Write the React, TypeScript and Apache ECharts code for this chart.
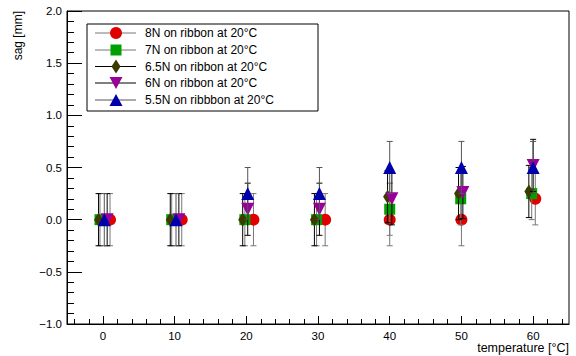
import React, { useEffect, useRef } from "react";
import * as echarts from "echarts";

// ---- data ----
const seriesNames = [
  "8N on ribbon at 20°C",
  "7N on ribbon at 20°C",
  "6.5N on ribbon at 20°C",
  "6N on ribbon at 20°C",
  "5.5N on ribbbon at 20°C",
];
// nominal temperatures (°C)
const temps = [0, 10, 20, 30, 40, 50, 60];
// small horizontal offsets of each measured point from the nominal temperature
const dx8N = [1.0, 1.0, 1.0, 1.0, 0.0, 0.0, 0.3];
const y8N = [0, 0, 0, 0, 0, 0, 0.2];
const e8N = [0.25, 0.25, 0.25, 0.25, 0.25, 0.25, 0.25];
const dx7N = [-0.4, -0.4, -0.2, -0.2, 0.0, -0.1, -0.2];
const y7N = [0, 0, 0, 0, 0.1, 0.2, 0.25];
const e7N = [0.25, 0.25, 0.25, 0.25, 0.25, 0.25, 0.25];
const dx65N = [-0.6, -0.6, -0.5, -0.5, -0.3, -0.4, -0.6];
const y65N = [0, 0, 0, 0, 0.22, 0.25, 0.27];
const e65N = [0.25, 0.25, 0.25, 0.25, 0.25, 0.25, 0.25];
const dx6N = [0.6, 0.6, 0.2, 0.2, 0.3, 0.2, 0.0];
const y6N = [0, 0, 0.1, 0.1, 0.2, 0.26, 0.52];
const e6N = [0.25, 0.25, 0.25, 0.25, 0.25, 0.25, 0.25];
const dx55N = [0.2, 0.2, 0.2, 0.2, 0.0, 0.0, 0.0];
const y55N = [0, 0, 0.25, 0.25, 0.5, 0.5, 0.5];
const e55N = [0.25, 0.25, 0.25, 0.25, 0.25, 0.25, 0.25];

const xMajorTicks = [0, 10, 20, 30, 40, 50, 60];
const xMinorTicks = [-4, -2, 2, 4, 6, 8, 12, 14, 16, 18, 22, 24, 26, 28, 32, 34, 36, 38, 42, 44, 46, 48, 52, 54, 56, 58, 62, 64];

const FONT = "Liberation Sans, Arial, Helvetica, sans-serif";

export default function App() {
  const ref = useRef<HTMLDivElement>(null);
  useEffect(() => {
    document.body.style.margin = "0";
    const chart = echarts.init(ref.current!, null, { renderer: "svg" });

    const groups = [
      { name: seriesNames[0], dx: dx8N, ys: y8N, es: e8N, color: "#e00000", symbol: "circle", size: 12, rotate: 0, line: "#777" },
      { name: seriesNames[1], dx: dx7N, ys: y7N, es: e7N, color: "#00a000", symbol: "rect", size: 11, rotate: 0, line: "#777" },
      { name: seriesNames[2], dx: dx65N, ys: y65N, es: e65N, color: "#3d3a00", symbol: "diamond", size: [9, 14], rotate: 0, line: "#000" },
      { name: seriesNames[3], dx: dx6N, ys: y6N, es: e6N, color: "#990099", symbol: "triangle", size: 13, rotate: 180, line: "#000" },
      { name: seriesNames[4], dx: dx55N, ys: y55N, es: e55N, color: "#0000aa", symbol: "triangle", size: 13, rotate: 0, line: "#555" },
    ];

    const series: any[] = [];
    groups.forEach((g, i) => {
      const pts = temps.map((t, k) => [t + g.dx[k], g.ys[k], g.es[k]]);
      series.push({
        type: "custom",
        name: g.name + " err",
        z: 2 + i * 2,
        data: pts,
        renderItem: (params: any, api: any) => {
          const x = api.value(0);
          const y = api.value(1);
          const e = api.value(2);
          const top = api.coord([x, y + e]);
          const bot = api.coord([x, y - e]);
          const st = { stroke: g.line, lineWidth: 1 };
          return {
            type: "group",
            children: [
              { type: "line", shape: { x1: top[0], y1: top[1], x2: bot[0], y2: bot[1] }, style: st },
              { type: "line", shape: { x1: top[0] - 3, y1: top[1], x2: top[0] + 3, y2: top[1] }, style: st },
              { type: "line", shape: { x1: bot[0] - 3, y1: bot[1], x2: bot[0] + 3, y2: bot[1] }, style: st },
            ],
          };
        },
      });
      series.push({
        type: "scatter",
        name: g.name,
        z: 3 + i * 2,
        symbol: g.symbol,
        symbolSize: g.size,
        symbolRotate: g.rotate,
        itemStyle: { color: g.color, opacity: 1 },
        data: pts.map((p) => [p[0], p[1]]),
      });
    });

    // legend drawn as graphic
    const legendChildren: any[] = [
      { type: "rect", shape: { x: 87, y: 24, width: 231, height: 87 }, style: { fill: "#fff", stroke: "#000", lineWidth: 1 } },
    ];
    const rowY = [33, 50, 66.5, 83, 100];
    groups.forEach((g, i) => {
      const cy = rowY[i];
      const cx = 116;
      legendChildren.push({ type: "line", shape: { x1: 95, y1: cy, x2: 136, y2: cy }, style: { stroke: g.line, lineWidth: 1 } });
      if (g.symbol === "circle") {
        legendChildren.push({ type: "circle", shape: { cx, cy, r: 6 }, style: { fill: g.color } });
      } else if (g.symbol === "rect") {
        legendChildren.push({ type: "rect", shape: { x: cx - 5.5, y: cy - 5.5, width: 11, height: 11 }, style: { fill: g.color } });
      } else if (g.symbol === "diamond") {
        legendChildren.push({ type: "polygon", shape: { points: [[cx, cy - 7], [cx + 4.5, cy], [cx, cy + 7], [cx - 4.5, cy]] }, style: { fill: g.color } });
      } else if (g.rotate === 180) {
        legendChildren.push({ type: "polygon", shape: { points: [[cx - 6.5, cy - 6], [cx + 6.5, cy - 6], [cx, cy + 6]] }, style: { fill: g.color } });
      } else {
        legendChildren.push({ type: "polygon", shape: { points: [[cx - 6.5, cy + 6], [cx + 6.5, cy + 6], [cx, cy - 6]] }, style: { fill: g.color } });
      }
      legendChildren.push({
        type: "text",
        x: 145,
        y: cy,
        style: { text: g.name, fill: "#000", font: `12px ${FONT}`, textAlign: "left", textVerticalAlign: "middle" },
      });
    });

    const baseGraphic: any[] = [
      {
        type: "text",
        x: 18,
        y: 11,
        rotation: Math.PI / 2,
        style: { text: "sag [mm]", fill: "#000", font: `12px ${FONT}`, textAlign: "right", textVerticalAlign: "middle" },
      },
      {
        type: "text",
        x: 569,
        y: 348,
        style: { text: "temperature [°C]", fill: "#000", font: `12.5px ${FONT}`, textAlign: "right", textVerticalAlign: "middle" },
      },
      { type: "group", z: 100, children: legendChildren },
    ];

    const option: any = {
      animation: false,
      backgroundColor: "#fff",
      grid: { left: 67, right: 7, top: 11, bottom: 32, show: true, borderColor: "#000", borderWidth: 1, backgroundColor: "transparent" },
      xAxis: {
        type: "value",
        min: -5,
        max: 65,
        position: "bottom",
        axisLine: { show: true, onZero: false, lineStyle: { color: "#000", width: 1 } },
        axisTick: { show: true, inside: true, length: 8, customValues: xMajorTicks, lineStyle: { color: "#000" } },
        axisLabel: { show: true, customValues: xMajorTicks, color: "#000", fontSize: 11.5, fontFamily: FONT, margin: 6 },
        splitLine: { show: false },
      },
      yAxis: {
        type: "value",
        min: -1,
        max: 2,
        interval: 0.5,
        axisLine: { show: true, onZero: false, lineStyle: { color: "#000", width: 1 } },
        axisTick: { show: true, inside: true, length: 15, lineStyle: { color: "#000" } },
        minorTick: { show: true, splitNumber: 5, length: 7, lineStyle: { color: "#000" } },
        axisLabel: {
          color: "#000",
          fontSize: 11.5,
          fontFamily: FONT,
          margin: 5,
          formatter: (v: number) => (v < 0 ? "\u2212" + Math.abs(v).toFixed(1) : v.toFixed(1)),
        },
        splitLine: { show: false },
      },
      graphic: baseGraphic,
      series,
    };
    chart.setOption(option);

    // minor ticks of the x axis, positioned through the axis scale
    const tickEls: any[] = xMinorTicks.map((v) => {
      const p = chart.convertToPixel({ xAxisIndex: 0, yAxisIndex: 0 }, [v, -1]) as number[];
      return {
        type: "line",
        shape: { x1: Math.round(p[0]) + 0.5, y1: p[1], x2: Math.round(p[0]) + 0.5, y2: p[1] - 5 },
        style: { stroke: "#000", lineWidth: 1 },
        z: 50,
      };
    });
    chart.setOption({ graphic: [...baseGraphic, { type: "group", z: 50, children: tickEls }] });

    return () => chart.dispose();
  }, []);
  return <div ref={ref} style={{ width: 576, height: 356 }} />;
}
